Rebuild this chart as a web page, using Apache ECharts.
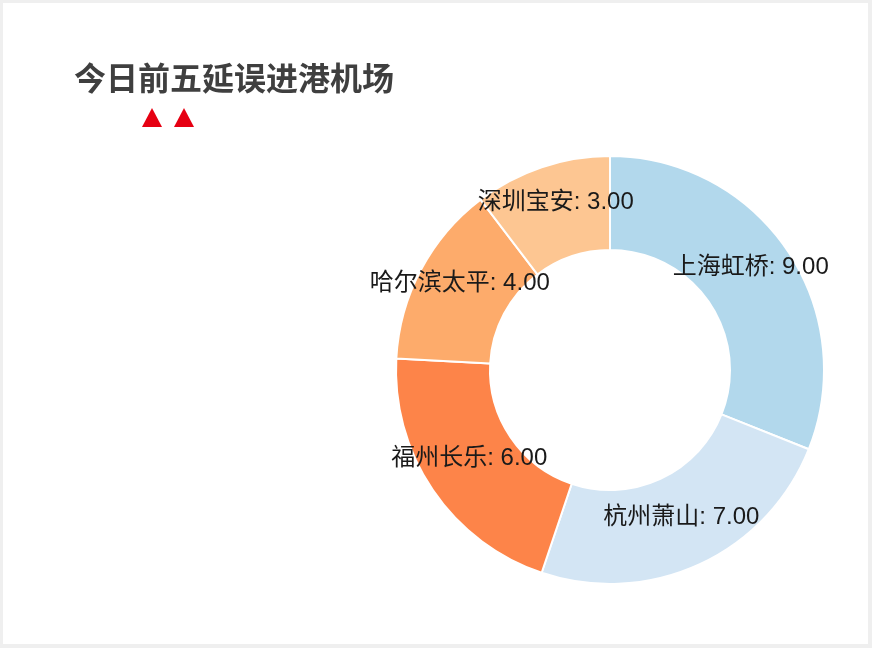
<!DOCTYPE html>
<html lang="zh">
<head>
<meta charset="UTF-8">
<title>今日前五延误进港机场</title>
<script src="https://cdn.jsdelivr.net/npm/echarts@6/dist/echarts.min.js"></script>
<style>
  html, body { margin: 0; padding: 0; background: #efefef; }
  #main { position: absolute; left: 3px; top: 3px; width: 865px; height: 641px; background: #fff; }
</style>
</head>
<body>
<div id="main"></div>
<script>
// airports and delayed arrivals (top five today)
const airports = ['上海虹桥', '杭州萧山', '福州长乐', '哈尔滨太平', '深圳宝安'];
const delays = [9, 7, 6, 4, 3];
const sliceColors = ['#b2d8ec', '#d3e5f4', '#fd8449', '#fdab6b', '#fdc692'];

let chartDom = document.getElementById('main');
let myChart = echarts.init(chartDom);

let option = {
  backgroundColor: '#fff',
  animation: false,
  title: {
    text: '今日前五延误进港机场',
    left: 66,
    top: 54,
    textStyle: {
      fontFamily: 'Noto Sans CJK SC',
      fontSize: 32,
      fontWeight: 'bold',
      color: '#3f3f3f'
    }
  },
  graphic: [
    { type: 'polygon', shape: { points: [[149, 105], [139, 124], [159, 124]] }, style: { fill: '#e60012' } },
    { type: 'polygon', shape: { points: [[181, 105], [171, 124], [191, 124]] }, style: { fill: '#e60012' } }
  ],
  series: [{
    type: 'pie',
    center: [607, 367],
    radius: [120, 214],
    startAngle: 90,
    clockwise: true,
    itemStyle: { borderColor: '#fff', borderWidth: 2 },
    label: {
      position: 'inside',
      formatter: p => p.name + ': ' + p.value.toFixed(2),
      fontFamily: 'Liberation Sans, Noto Sans CJK SC',
      fontSize: 24,
      color: '#1a1a1a'
    },
    labelLayout: { dy: -7 },
    emphasis: { disabled: true },
    data: airports.map((name, i) => ({
      name: name,
      value: delays[i],
      itemStyle: { color: sliceColors[i] }
    }))
  }]
};

myChart.setOption(option);
</script>
</body>
</html>
